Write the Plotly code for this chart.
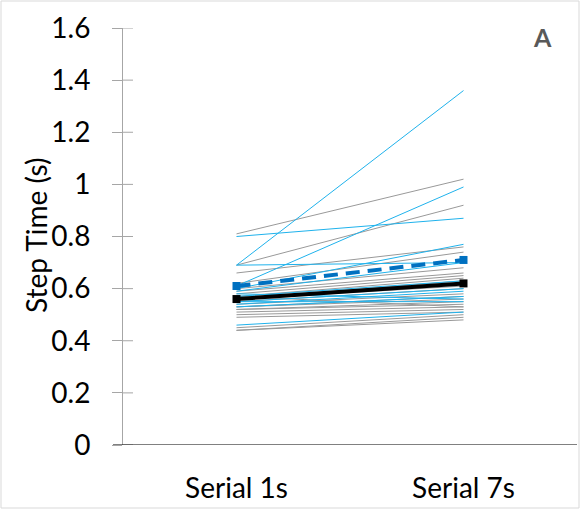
import plotly.graph_objects as go

categories = ["Serial 1s", "Serial 7s"]

# individual participants (grey group)
grey_1s = [0.81, 0.69, 0.66, 0.62, 0.60, 0.59, 0.58, 0.57, 0.56, 0.56, 0.55, 0.54,
           0.53, 0.53, 0.52, 0.52, 0.51, 0.50, 0.49, 0.45, 0.44, 0.44, 0.57]
grey_7s = [1.02, 0.92, 0.76, 0.74, 0.68, 0.66, 0.65, 0.64, 0.63, 0.61, 0.60, 0.58,
           0.57, 0.56, 0.55, 0.54, 0.53, 0.52, 0.51, 0.50, 0.49, 0.48, 0.53]

# individual participants (blue group)
blue_1s = [0.69, 0.61, 0.80, 0.69, 0.60, 0.59, 0.57, 0.55, 0.54, 0.53, 0.58, 0.46, 0.55]
blue_7s = [1.36, 0.99, 0.87, 0.70, 0.77, 0.70, 0.63, 0.60, 0.59, 0.57, 0.56, 0.51, 0.55]

# group means
mean_grey = [0.56, 0.62]
mean_blue = [0.61, 0.71]

y_ticks = [0, 0.2, 0.4, 0.6, 0.8, 1, 1.2, 1.4, 1.6]
y_labels = ["0", "0.2", "0.4", "0.6", "0.8", "1", "1.2", "1.4", "1.6"]

FONT = "Lato, Open Sans, sans-serif"

fig = go.Figure()

for a, b in zip(grey_1s, grey_7s):
    fig.add_trace(go.Scatter(x=[0, 1], y=[a, b], mode="lines",
                             line=dict(color="#999999", width=1), showlegend=False))

for a, b in zip(blue_1s, blue_7s):
    fig.add_trace(go.Scatter(x=[0, 1], y=[a, b], mode="lines",
                             line=dict(color="#1fb2ec", width=1), showlegend=False))

fig.add_trace(go.Scatter(x=[0, 1], y=mean_blue, mode="lines+markers",
                         line=dict(color="#0070c0", width=4, dash="14px,8px"),
                         marker=dict(symbol="square", size=8, color="#0070c0"),
                         showlegend=False))
fig.add_trace(go.Scatter(x=[0, 1], y=mean_grey, mode="lines+markers",
                         line=dict(color="black", width=4),
                         marker=dict(symbol="square", size=8, color="black"),
                         showlegend=False))

shapes = []
# y ticks crossing the axis (inside part)
for t in y_ticks:
    shapes.append(dict(type="line", xref="paper", yref="y", x0=0, x1=10 / 454,
                       y0=t, y1=t, line=dict(color="#a6a6a6", width=1)))
# x axis line, extending left like the original
shapes.append(dict(type="line", xref="paper", yref="y", x0=-10 / 454, x1=1,
                   y0=0, y1=0, line=dict(color="black", width=1)))
# outer frame
shapes.append(dict(type="rect", xref="paper", yref="paper",
                   x0=-122 / 454, x1=456 / 454, y0=-63 / 417, y1=444 / 417,
                   line=dict(color="#d9d9d9", width=1)))

fig.update_layout(
    width=581, height=510,
    margin=dict(l=123, r=4, t=28, b=65),
    plot_bgcolor="white", paper_bgcolor="white",
    font=dict(family=FONT, color="black"),
    shapes=shapes,
    xaxis=dict(range=[-0.5, 1.5], tickvals=[0, 1], ticktext=categories,
               showgrid=False, zeroline=False, showline=False, ticks="",
               ticklabelstandoff=24, tickfont=dict(size=28)),
    yaxis=dict(range=[0, 1.6], tickvals=y_ticks, ticktext=y_labels,
               showgrid=False, zeroline=False, showline=True,
               linecolor="#a6a6a6", linewidth=1,
               ticks="outside", ticklen=10, tickcolor="#a6a6a6",
               ticklabelstandoff=16, tickfont=dict(size=28)),
    annotations=[
        dict(text="Step Time (s)", textangle=-90, xref="paper", yref="paper",
             x=(36 - 123) / 454, y=(445 - 236) / 417, xanchor="center", yanchor="middle",
             showarrow=False, font=dict(size=28, color="black")),
        dict(text="<b>A</b>", xref="paper", yref="paper",
             x=(542 - 123) / 454, y=(445 - 37) / 417, xanchor="center", yanchor="middle",
             showarrow=False, font=dict(size=25, color="#595959")),
    ],
)

fig.write_html("out.html", config={"displayModeBar": False},
               post_script="document.body.style.margin='0';")
